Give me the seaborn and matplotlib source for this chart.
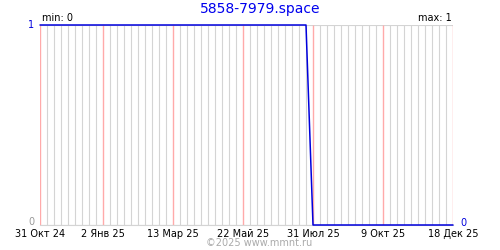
import matplotlib
matplotlib.use("Agg")
import matplotlib.pyplot as plt
import matplotlib.dates as mdates
import seaborn as sns
import pandas as pd

# data (step from 1 to 0)
dates = ["2024-10-31", "2025-07-24", "2025-07-31", "2025-12-18"]
values = [1, 1, 0, 0]

tick_dates = ["2024-10-31", "2025-01-02", "2025-03-13", "2025-05-22",
              "2025-07-31", "2025-10-09", "2025-12-18"]
tick_labels = ["31 Окт 24", "2 Янв 25", "13 Мар 25", "22 Май 25",
               "31 Июл 25", "9 Окт 25", "18 Дек 25"]
title = "5858-7979.space"

df = pd.DataFrame({"date": pd.to_datetime(dates), "value": values})

sns.set_style("white")
plt.rcParams["font.family"] = ["DejaVu Sans"]

fig = plt.figure(figsize=(5, 2.5), dpi=100)
ax = fig.add_axes([0.08, 0.1, 0.826, 0.8])

# weekly minor grid (excluding the labelled dates, which get red lines)
major = pd.to_datetime(tick_dates)
start = major[0]
end = major[-1]
weeks = pd.date_range(start, end, freq="7D").difference(major)
ax.set_xticks(mdates.date2num(weeks), minor=True)
ax.set_xticks(mdates.date2num(major))
ax.set_xticklabels(tick_labels)
ax.grid(which="minor", axis="x", color="#d4d4d4", lw=0.8)
ax.grid(which="major", axis="x", visible=False)
ax.vlines(mdates.date2num(major), 0, 1, colors="#ffaaaa", lw=1.0, zorder=1)
ax.set_yticks([0, 1])
ax.grid(which="major", axis="y", color="#d4d4d4", lw=0.8)
ax.set_axisbelow(True)

sns.lineplot(data=df, x="date", y="value", ax=ax, color="#0000dd",
             lw=1.1, clip_on=False, zorder=5)

ax.set_xlim(mdates.date2num(start), mdates.date2num(end))
ax.set_ylim(0, 1)
ax.set_xlabel("")
ax.set_ylabel("")
ax.set_yticklabels([])
ax.tick_params(axis="both", which="both", length=0, labelsize=7, pad=3)
for lbl in ax.get_xticklabels():
    lbl.set_color("black")
for s in ["top", "right", "left"]:
    ax.spines[s].set_visible(False)
ax.spines["bottom"].set_color("#d4d4d4")
ax.spines["bottom"].set_linewidth(0.8)

fig.text(0.52, 0.966, title, ha="center", va="center", color="#0000ee", fontsize=10)
fig.text(0.084, 0.928, "min: 0", ha="left", va="center", fontsize=7, color="black")
fig.text(0.904, 0.928, "max: 1", ha="right", va="center", fontsize=7, color="black")
fig.text(0.062, 0.9, "1", ha="center", va="center", fontsize=7, color="#0000dd")
fig.text(0.062, 0.112, "0", ha="center", va="center", fontsize=7, color="#999999")
fig.text(0.926, 0.106, "0", ha="center", va="center", fontsize=7, color="#0000dd")
fig.text(0.412, 0.028, "©2025 www.mmnt.ru", ha="left", va="center", fontsize=7, color="#aaaaaa")

fig.savefig("out.png", dpi=100)
